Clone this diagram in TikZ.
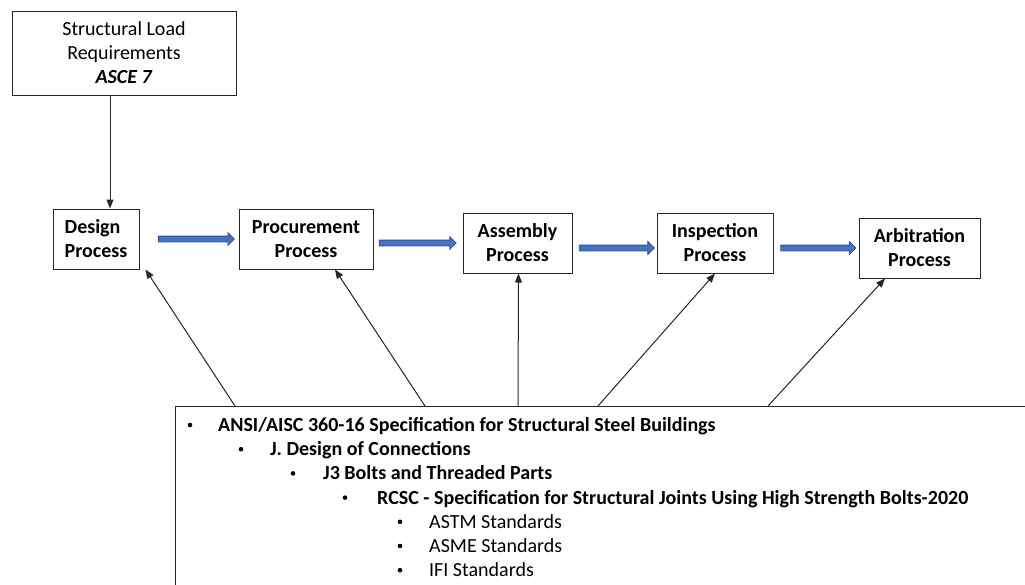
\documentclass[tikz,border=0pt]{standalone}
\usepackage{fontspec}
\setmainfont{Carlito}
\usetikzlibrary{arrows.meta, shapes.arrows}

\definecolor{flowblue}{HTML}{4472C4}
\definecolor{flowedge}{HTML}{2F528F}
\definecolor{boxline}{HTML}{262626}

\tikzset{
  stage/.style={draw=boxline, line width=1pt, minimum height=60pt, inner sep=0pt,
    font=\fontsize{20}{24}\selectfont\bfseries, align=center},
  flow/.style={single arrow, draw=flowedge, fill=flowblue, line width=0.8pt,
    inner sep=2.5pt, single arrow head extend=3.5pt, single arrow head indent=0pt,
    minimum height=76pt},
  link/.style={draw=black!85, line width=1pt, -{Triangle[length=9pt,width=7pt]}},
  item/.style={anchor=base west, inner sep=0pt},
  dot/.style={circle, fill=black, inner sep=0pt, minimum size=4.6pt},
}

\begin{document}
\begin{tikzpicture}[x=1pt, y=-1pt, font=\fontsize{20}{24}\selectfont]
\useasboundingbox (0,0) rectangle (1025,584);
\clip (0,0) rectangle (1025,584);

% load box on top
\node[draw=boxline, line width=1pt, minimum width=224pt, minimum height=84pt,
  align=center] (load) at (124,53) {Structural Load\\Requirements\\\textbf{\textit{ASCE 7}}};

% process chain
\node[stage, minimum width=86pt, align=left] (design) at (96,239) {Design\\Process};
\node[stage, minimum width=134pt] (procure) at (306,239) {Procurement\\Process};
\node[stage, minimum width=109pt] (assembly) at (517.5,243) {Assembly\\Process};
\node[stage, minimum width=116pt] (inspect) at (715,243) {Inspection\\Process};
\node[stage, minimum width=121pt] (arbit) at (919.5,248) {Arbitration\\Process};

% blue block arrows between the stages
\path (design.east) -- (procure.west) node[flow, pos=.56] (f1) {};
\path ([yshift=-4pt]procure.east) -- (assembly.west) node[flow, pos=.48, minimum height=77pt] (f2) {};
\path ([yshift=-5pt]assembly.east) -- ([yshift=-5pt]inspect.west) node[flow, pos=.51, minimum height=75pt] (f3) {};
\path ([yshift=-5pt]inspect.east) -- (arbit.west) node[flow, pos=.51, minimum height=75pt] (f4) {};

% specification box (runs off the page)
\node[draw=boxline, line width=1.3pt, anchor=north west, minimum width=880pt,
  minimum height=200pt, inner sep=0pt] (spec) at (175,406) {};

\node[dot] (b1) at (190,425) {};
\node[item] (ansi) at (218,431.5) {\textbf{ANSI/AISC 360-16 Specification for Structural Steel Buildings}};
\node[dot] (b2) at (241,449.2) {};
\node[item] (conn) at (270,455.7) {\textbf{J. Design of Connections}};
\node[dot] (b3) at (293,473.4) {};
\node[item] (bolts) at (323,479.9) {\textbf{J3 Bolts and Threaded Parts}};
\node[dot] (b4) at (345,497.6) {};
\node[item] (rcsc) at (377,504.1) {\textbf{RCSC - Specification for Structural Joints Using High Strength Bolts-2020}};
\node[dot] (b5) at (400,521.8) {};
\node[item] (astm) at (429,528.3) {ASTM Standards};
\node[dot] (b6) at (400,546) {};
\node[item] (asme) at (429,552.5) {ASME Standards};
\node[dot] (b7) at (400,570.2) {};
\node[item] (ifi) at (429,576.7) {IFI Standards};

% thin arrows
\draw[link] ([xshift=-14pt]load.south) -- ([xshift=14pt]design.north);
\draw[link] ([xshift=60pt]spec.north west) -- ([xshift=6pt]design.south east);
\draw[link] ([xshift=250pt]spec.north west) -- ([xshift=29pt]procure.south);
\draw[link] ([xshift=343pt]spec.north west) -- ([xshift=1pt]assembly.south);
\draw[link] ([xshift=423pt]spec.north west) -- (inspect.south);
\draw[link] ([xshift=593pt]spec.north west) -- ([xshift=-34.5pt]arbit.south);

\end{tikzpicture}
\end{document}
